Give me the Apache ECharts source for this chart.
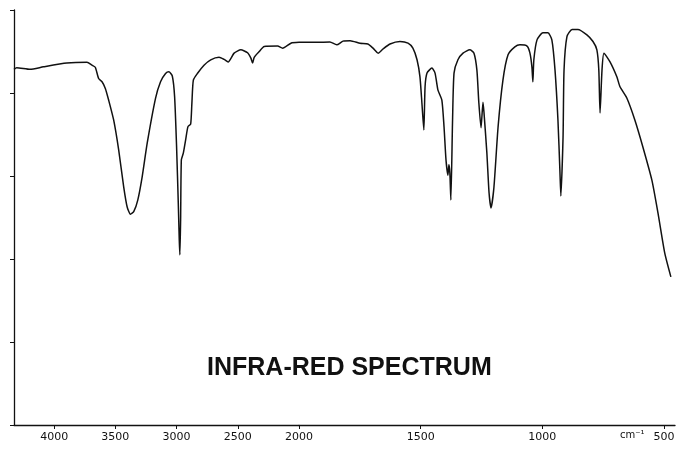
<!DOCTYPE html>
<html>
<head>
<meta charset="utf-8">
<script src="https://cdn.jsdelivr.net/npm/echarts@6/dist/echarts.min.js"></script>
<style>
    html, body { margin: 0; padding: 0; background: #fff; }
    #chart { width: 677px; height: 451px; }
</style>
</head>
<body>
<div id="chart"></div>
<script>
// wavenumber (cm-1), high to low
const wavenumbers = [
    4328, 4306, 4197, 4088, 3896, 3732, 3691, 3664, 3637, 3609, 3582, 3555, 3514, 3473, 3432, 3404,
    3377, 3350, 3317, 3281, 3240, 3172, 3131, 3090, 3063, 3035, 3016, 3000, 2986, 2978, 2973, 2967,
    2961, 2945, 2926, 2907, 2885, 2875, 2863, 2830, 2776, 2721, 2653, 2612, 2579, 2530, 2475, 2420,
    2393, 2379, 2366, 2325, 2284, 2175, 2134, 2066, 2000, 1927, 1873, 1845, 1819, 1790, 1749, 1717,
    1696, 1675, 1655, 1626, 1585, 1552, 1532, 1515, 1503, 1495, 1487, 1482, 1474, 1454, 1441, 1429,
    1413, 1404, 1396, 1388, 1384, 1380, 1376, 1369, 1363, 1347, 1326, 1298, 1281, 1269, 1261, 1252,
    1244, 1240, 1228, 1219, 1211, 1199, 1182, 1162, 1141, 1113, 1092, 1063, 1051, 1043, 1039, 1035,
    1022, 998, 977, 961, 948, 936, 928, 924, 915, 911, 899, 878, 854, 817, 792, 776,
    768, 763, 755, 747, 722, 694, 681, 653, 620, 587, 550, 525, 497, 472
];
// transmittance (%)
const transmittance = [
    85.7, 86.1, 85.7, 86.3, 87.2, 87.4, 86.7, 86.2, 83.5, 82.7, 81.1, 78.3, 73.5, 66.3, 57.4, 52.6,
    50.8, 51.4, 54.2, 59.8, 67.9, 78.7, 82.7, 84.7, 85.1, 84.1, 79.1, 67.1, 53.4, 44.6, 41.0, 49.4,
    63.9, 65.5, 68.7, 71.9, 72.5, 77.5, 83.1, 84.7, 86.7, 88.0, 88.6, 88.1, 87.5, 89.6, 90.4, 89.7,
    88.4, 87.2, 88.6, 90.0, 91.2, 91.3, 90.8, 92.0, 92.2, 92.2, 92.3, 91.6, 92.5, 92.6, 92.0, 91.8,
    90.8, 89.6, 90.6, 91.8, 92.4, 92.0, 90.8, 88.0, 83.9, 77.6, 71.1, 81.5, 84.8, 86.0, 84.8, 80.7,
    78.3, 71.8, 63.9, 60.2, 62.7, 60.7, 54.2, 73.5, 84.8, 88.0, 89.6, 90.4, 89.6, 85.5, 77.6, 71.6,
    77.8, 75.4, 65.5, 55.9, 52.3, 57.3, 71.8, 83.1, 89.2, 91.1, 91.6, 91.3, 89.6, 86.3, 82.7, 88.0,
    92.8, 94.5, 94.5, 92.8, 85.5, 73.5, 61.4, 55.2, 69.4, 85.5, 93.6, 95.3, 95.3, 94.0, 92.4, 90.4,
    85.5, 75.2, 85.5, 89.6, 87.5, 83.9, 81.5, 78.8, 73.5, 67.0, 59.0, 51.1, 41.4, 35.7
];
// the chart paper changes scale at 2000 cm-1
const highTicks = [4000, 3500, 3000, 2500, 2000];
const lowTicks = [1500, 1000, 500];
const unitLabel = 'cm⁻¹';
const titleText = 'INFRA-RED SPECTRUM';

function PaintChart() {
    const chart = echarts.init(document.getElementById('chart'));

    const points = wavenumbers.map((w, i) => [w, transmittance[i]]);
    const highPart = points.filter(p => p[0] >= 2000);
    const lowPart = points.filter(p => p[0] <= 2000);

    const axisLine = { lineStyle: { color: '#111', width: 1.3 } };
    const labelStyle = {
        fontFamily: 'DejaVu Sans',
        fontSize: 11,
        color: '#111',
        margin: 7,
        formatter: v => String(v)
    };

    const option = {
        animation: false,
        backgroundColor: '#fff',
        grid: [
            { left: 14, top: 10, width: 285, height: 415, outerBoundsMode: 'none' },
            { left: 299, top: 10, width: 376, height: 415, outerBoundsMode: 'none' }
        ],
        xAxis: [
            {
                type: 'value',
                gridIndex: 0,
                min: 2000,
                max: 4328,
                inverse: true,
                axisLine: axisLine,
                axisTick: { show: true, length: 4, lineStyle: { color: '#111' }, customValues: highTicks },
                axisLabel: Object.assign({ customValues: highTicks }, labelStyle),
                splitLine: { show: false }
            },
            {
                type: 'value',
                gridIndex: 1,
                min: 455,
                max: 2000,
                inverse: true,
                axisLine: axisLine,
                axisTick: { show: true, length: 4, lineStyle: { color: '#111' }, customValues: lowTicks },
                axisLabel: Object.assign({ customValues: lowTicks }, labelStyle),
                splitLine: { show: false }
            }
        ],
        yAxis: [
            {
                type: 'value',
                gridIndex: 0,
                min: 0,
                max: 100,
                interval: 20,
                axisLine: { show: true, lineStyle: { color: '#111', width: 1.3 } },
                axisTick: { show: true, length: 4, lineStyle: { color: '#111' } },
                axisLabel: { show: false },
                splitLine: { show: false }
            },
            {
                type: 'value',
                gridIndex: 1,
                min: 0,
                max: 100,
                show: false,
                splitLine: { show: false }
            }
        ],
        graphic: [
            {
                type: 'text',
                left: 620,
                top: 430,
                style: { text: unitLabel, font: '10px "DejaVu Sans"', fill: '#111' }
            },
            {
                type: 'text',
                left: 207,
                top: 356,
                style: { text: titleText, font: 'bold 25px "Liberation Sans"', fill: '#111' }
            }
        ],
        series: [
            {
                type: 'line',
                xAxisIndex: 0,
                yAxisIndex: 0,
                data: highPart,
                showSymbol: false,
                smooth: 0.2,
                lineStyle: { color: '#111', width: 1.5 }
            },
            {
                type: 'line',
                xAxisIndex: 1,
                yAxisIndex: 1,
                data: lowPart,
                showSymbol: false,
                smooth: 0.2,
                lineStyle: { color: '#111', width: 1.5 }
            }
        ]
    };

    chart.setOption(option);
}

PaintChart();
</script>
</body>
</html>
